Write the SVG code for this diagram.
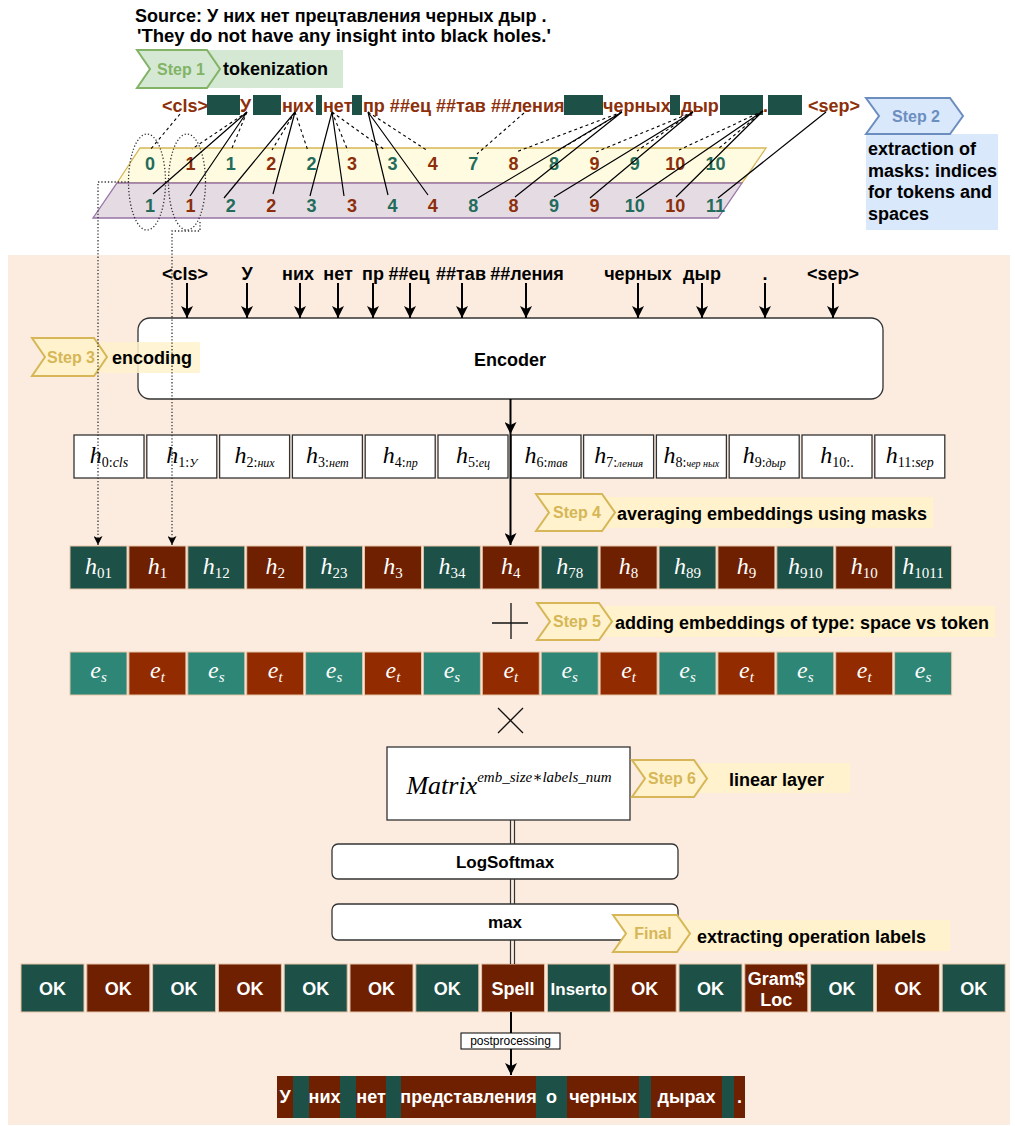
<svg xmlns="http://www.w3.org/2000/svg" width="1015" height="1126" viewBox="0 0 1015 1126">
<defs>
<style>
.t{font-family:"Liberation Sans",Arial,sans-serif;font-weight:bold;font-size:18px;fill:#000}
.tk{font-family:"Liberation Sans",Arial,sans-serif;font-weight:bold;font-size:18px;fill:#8c2f0a}
.ng{font-family:"Liberation Sans",Arial,sans-serif;font-weight:bold;font-size:18px;fill:#236b5b}
.nb{font-family:"Liberation Sans",Arial,sans-serif;font-weight:bold;font-size:18px;fill:#8c2f0a}
.st{font-family:"Liberation Sans",Arial,sans-serif;font-weight:bold;font-size:16px;fill:#d6b656}
.lab{font-family:"Liberation Sans",Arial,sans-serif;font-weight:bold;font-size:18px;fill:#fff}
.mh{font-family:"Liberation Serif","DejaVu Serif",serif;font-style:italic;font-size:24px;fill:#000}
.mw{font-family:"Liberation Serif","DejaVu Serif",serif;font-style:italic;font-size:24px;fill:#fff}
.ms{font-style:normal;font-size:14px}
.ms2{font-style:normal;font-size:15px}
.mi{font-style:italic;font-size:12px}
.mi2{font-style:italic;font-size:15px}
.chev{fill:#fff2cc;stroke:#d6b656;stroke-width:2}
.lbox{fill:#fff2cc}
.hb{fill:#fff;stroke:#333;stroke-width:1.3}
.g1{fill:#1d5046;stroke:#e3c4a8;stroke-width:1}
.b1{fill:#6e2000;stroke:#e3c4a8;stroke-width:1}
.g2{fill:#2e8676;stroke:#e3c4a8;stroke-width:1}
.b2{fill:#922c00;stroke:#e3c4a8;stroke-width:1}
.sol{stroke:#000;stroke-width:1.2;fill:none}
.dsh{stroke:#000;stroke-width:1.1;fill:none;stroke-dasharray:3 3}
.dot{stroke:#333;stroke-width:1.3;fill:none;stroke-dasharray:1.3 2}
.arr{stroke:#000;stroke-width:2;fill:none;marker-end:url(#ah)}
.dbl{stroke:#333;stroke-width:1.2;fill:none}
.rbox{fill:#fff;stroke:#333;stroke-width:1.3}
</style>
<marker id="ah" viewBox="0 0 12 12" refX="12" refY="6" markerWidth="12" markerHeight="12" markerUnits="userSpaceOnUse" orient="auto"><path d="M0,0 L12,6 L0,12 L3,6 z" fill="#000"/></marker>
<marker id="ahs" viewBox="0 0 10 10" refX="10" refY="5" markerWidth="9" markerHeight="9" markerUnits="userSpaceOnUse" orient="auto"><path d="M0,0 L10,5 L0,10 L2.5,5 z" fill="#000"/></marker>
</defs>
<rect x="0" y="0" width="1015" height="1126" fill="#fff"/>
<rect x="8" y="255" width="1002" height="870" fill="#fcecdf"/>

<g id="source">
<text class="t" x="135" y="22">Source: У них нет прецтавления черных дыр .</text>
<text class="t" x="137" y="42" style="font-size:18.5px">'They do not have any insight into black holes.'</text>
</g>

<g id="step1">
<rect x="207" y="50" width="136" height="38" fill="#d5e8d4"/>
<polygon points="137,50 207,50 220,69 207,88 137,88 150,69" fill="#d5e8d4" stroke="#82b366" stroke-width="2"/>
<text class="st" x="181" y="75" text-anchor="middle" style="fill:#82b366">Step 1</text>
<text class="t" x="223" y="75">tokenization</text>
</g>

<g id="tokens">
<text class="tk" x="162" y="112">&lt;cls&gt;</text>
<rect x="207" y="95" width="33" height="20" fill="#1d5046"/>
<text class="tk" x="240" y="112">У</text>
<rect x="253" y="95" width="28" height="20" fill="#1d5046"/>
<text class="tk" x="282" y="112">них</text>
<rect x="316" y="95" width="6" height="20" fill="#1d5046"/>
<text class="tk" x="323" y="112">нет</text>
<rect x="352" y="95" width="10" height="20" fill="#1d5046"/>
<text class="tk" x="363" y="112">пр ##ец ##тав ##ления</text>
<rect x="564" y="95" width="39" height="20" fill="#1d5046"/>
<text class="tk" x="603" y="112">черных</text>
<rect x="670" y="95" width="10" height="20" fill="#1d5046"/>
<text class="tk" x="681" y="112">дыр</text>
<rect x="720" y="95" width="43" height="20" fill="#1d5046"/>
<text class="tk" x="763" y="112">.</text>
<rect x="768" y="95" width="34" height="20" fill="#1d5046"/>
<text class="tk" x="808" y="112">&lt;sep&gt;</text>
</g>

<g id="step2">
<rect x="866" y="134" width="132" height="96" fill="#dae8fc"/>
<polygon points="866,98 950,98 963,116 950,134 866,134 879,116" fill="#dae8fc" stroke="#6c8ebf" stroke-width="2"/>
<text class="st" x="916" y="122" text-anchor="middle" style="fill:#6c8ebf">Step 2</text>
<text class="t" x="868" y="155">extraction of</text>
<text class="t" x="868" y="177">masks: indices</text>
<text class="t" x="868" y="198">for tokens and</text>
<text class="t" x="868" y="220">spaces</text>
</g>

<g id="mask-space-row">
<polygon points="140,148 766,148 742,183 117,183" fill="#fefbe0" stroke="#d6b656" stroke-width="1.3"/>
<g text-anchor="middle">
<text class="ng" x="150" y="170">0</text>
<text class="nb" x="190.4" y="170">1</text>
<text class="ng" x="230.8" y="170">1</text>
<text class="nb" x="271.2" y="170">2</text>
<text class="ng" x="311.6" y="170">2</text>
<text class="nb" x="352" y="170">3</text>
<text class="ng" x="392.4" y="170">3</text>
<text class="nb" x="432.8" y="170">4</text>
<text class="ng" x="473.2" y="170">7</text>
<text class="nb" x="513.6" y="170">8</text>
<text class="ng" x="554" y="170">8</text>
<text class="nb" x="594.4" y="170">9</text>
<text class="ng" x="634.8" y="170">9</text>
<text class="nb" x="675.2" y="170">10</text>
<text class="ng" x="715.6" y="170">10</text>
</g>
</g>

<g id="mask-token-row">
<polygon points="117,183 742,183 718,218 93,218" fill="#e5dbe3" stroke="#9673a6" stroke-width="1.3"/>
<g text-anchor="middle">
<text class="ng" x="150" y="212">1</text>
<text class="nb" x="190.4" y="212">1</text>
<text class="ng" x="230.8" y="212">2</text>
<text class="nb" x="271.2" y="212">2</text>
<text class="ng" x="311.6" y="212">3</text>
<text class="nb" x="352" y="212">3</text>
<text class="ng" x="392.4" y="212">4</text>
<text class="nb" x="432.8" y="212">4</text>
<text class="ng" x="473.2" y="212">8</text>
<text class="nb" x="513.6" y="212">8</text>
<text class="ng" x="554" y="212">9</text>
<text class="nb" x="594.4" y="212">9</text>
<text class="ng" x="634.8" y="212">10</text>
<text class="nb" x="675.2" y="212">10</text>
<text class="ng" x="715.6" y="212">11</text>
</g>
</g>

<g id="mask-groups">
<ellipse cx="147" cy="182" rx="18.5" ry="48" class="dot"/>
<ellipse cx="187" cy="182" rx="18.5" ry="48" class="dot"/>
</g>

<g id="encoder-inputs">
<g text-anchor="middle">
<text class="t" x="185" y="280">&lt;cls&gt;</text>
<text class="t" x="247" y="280">У</text>
<text class="t" x="298" y="280">них</text>
<text class="t" x="338" y="280">нет</text>
<text class="t" x="373" y="280">пр</text>
<text class="t" x="409" y="280">##ец</text>
<text class="t" x="461" y="280">##тав</text>
<text class="t" x="527" y="280">##ления</text>
<text class="t" x="638" y="280">черных</text>
<text class="t" x="702" y="280">дыр</text>
<text class="t" x="765" y="280">.</text>
<text class="t" x="833" y="280">&lt;sep&gt;</text>
</g>
</g>

<g id="encoder">
<rect x="138" y="318" width="745" height="81" rx="12" class="rbox"/>
<text class="t" x="510" y="366" text-anchor="middle">Encoder</text>
</g>

<g id="step3">
<rect x="100" y="342" width="100" height="31" class="lbox" opacity="0.85"/>
<polygon points="32,338 94,338 107,357 94,376 32,376 45,357" class="chev"/>
<text class="st" x="71" y="363" text-anchor="middle">Step 3</text>
<text class="t" x="112" y="364">encoding</text>
</g>

<g id="hidden-states">
<rect x="74" y="435" width="70" height="43" class="hb"/>
<rect x="146.8" y="435" width="70" height="43" class="hb"/>
<rect x="219.6" y="435" width="70" height="43" class="hb"/>
<rect x="292.4" y="435" width="70" height="43" class="hb"/>
<rect x="365.2" y="435" width="70" height="43" class="hb"/>
<rect x="438" y="435" width="70" height="43" class="hb"/>
<rect x="511" y="435" width="70" height="43" class="hb"/>
<rect x="583.6" y="435" width="70" height="43" class="hb"/>
<rect x="656.4" y="435" width="70" height="43" class="hb"/>
<rect x="729.2" y="435" width="70" height="43" class="hb"/>
<rect x="802" y="435" width="70" height="43" class="hb"/>
<rect x="874.8" y="435" width="70" height="43" class="hb"/>
<g text-anchor="middle">
<text class="mh" x="109" y="463">h<tspan class="ms" dy="4">0:</tspan><tspan class="mi" style="font-size:14px">cls</tspan></text>
<text class="mh" x="181.8" y="463">h<tspan class="ms" dy="4">1:</tspan><tspan class="mi">У</tspan></text>
<text class="mh" x="254.6" y="463">h<tspan class="ms" dy="4">2:</tspan><tspan class="mi">них</tspan></text>
<text class="mh" x="327.4" y="463">h<tspan class="ms" dy="4">3:</tspan><tspan class="mi">нет</tspan></text>
<text class="mh" x="400.2" y="463">h<tspan class="ms" dy="4">4:</tspan><tspan class="mi">пр</tspan></text>
<text class="mh" x="473" y="463">h<tspan class="ms" dy="4">5:</tspan><tspan class="mi">ец</tspan></text>
<text class="mh" x="546" y="463">h<tspan class="ms" dy="4">6:</tspan><tspan class="mi">тав</tspan></text>
<text class="mh" x="618.6" y="463">h<tspan class="ms" dy="4">7:</tspan><tspan class="mi" style="font-size:11px">ления</tspan></text>
<text class="mh" x="691.4" y="463">h<tspan class="ms" dy="4">8:</tspan><tspan class="mi" style="font-size:10px">чер ных</tspan></text>
<text class="mh" x="764.2" y="463">h<tspan class="ms" dy="4">9:</tspan><tspan class="mi">дыр</tspan></text>
<text class="mh" x="837" y="463">h<tspan class="ms" dy="4">10:.</tspan></text>
<text class="mh" x="909.8" y="463">h<tspan class="ms" dy="4">11:</tspan><tspan class="mi" style="font-size:14px">sep</tspan></text>
</g>
</g>

<g id="step4">
<rect x="605" y="497" width="328" height="31" class="lbox"/>
<polygon points="536,494 602,494 615,512.5 602,531 536,531 549,512.5" class="chev"/>
<text class="st" x="577" y="518" text-anchor="middle">Step 4</text>
<text class="t" x="617" y="520">averaging embeddings using masks</text>
</g>

<g id="averaged">
<rect x="70" y="546" width="57" height="43" class="g1"/>
<rect x="128.9" y="546" width="57" height="43" class="b1"/>
<rect x="187.8" y="546" width="57" height="43" class="g1"/>
<rect x="246.7" y="546" width="57" height="43" class="b1"/>
<rect x="305.6" y="546" width="57" height="43" class="g1"/>
<rect x="364.5" y="546" width="57" height="43" class="b1"/>
<rect x="423.4" y="546" width="57" height="43" class="g1"/>
<rect x="482.3" y="546" width="57" height="43" class="b1"/>
<rect x="541.2" y="546" width="57" height="43" class="g1"/>
<rect x="600.1" y="546" width="57" height="43" class="b1"/>
<rect x="659" y="546" width="57" height="43" class="g1"/>
<rect x="717.9" y="546" width="57" height="43" class="b1"/>
<rect x="776.8" y="546" width="57" height="43" class="g1"/>
<rect x="835.7" y="546" width="57" height="43" class="b1"/>
<rect x="894.6" y="546" width="57" height="43" class="g1"/>
<g text-anchor="middle">
<text class="mw" x="98.5" y="574">h<tspan class="ms2" dy="4">01</tspan></text>
<text class="mw" x="157.4" y="574">h<tspan class="ms2" dy="4">1</tspan></text>
<text class="mw" x="216.3" y="574">h<tspan class="ms2" dy="4">12</tspan></text>
<text class="mw" x="275.2" y="574">h<tspan class="ms2" dy="4">2</tspan></text>
<text class="mw" x="334.1" y="574">h<tspan class="ms2" dy="4">23</tspan></text>
<text class="mw" x="393" y="574">h<tspan class="ms2" dy="4">3</tspan></text>
<text class="mw" x="451.9" y="574">h<tspan class="ms2" dy="4">34</tspan></text>
<text class="mw" x="510.8" y="574">h<tspan class="ms2" dy="4">4</tspan></text>
<text class="mw" x="569.7" y="574">h<tspan class="ms2" dy="4">78</tspan></text>
<text class="mw" x="628.6" y="574">h<tspan class="ms2" dy="4">8</tspan></text>
<text class="mw" x="687.5" y="574">h<tspan class="ms2" dy="4">89</tspan></text>
<text class="mw" x="746.4" y="574">h<tspan class="ms2" dy="4">9</tspan></text>
<text class="mw" x="805.3" y="574">h<tspan class="ms2" dy="4">910</tspan></text>
<text class="mw" x="864.2" y="574">h<tspan class="ms2" dy="4">10</tspan></text>
<text class="mw" x="923.1" y="574">h<tspan class="ms2" dy="4">1011</tspan></text>
</g>
</g>

<g id="plus">
<path d="M492,623 H528 M511,603 V639" stroke="#111" stroke-width="1.3" fill="none"/>
</g>

<g id="step5">
<rect x="605" y="606" width="390" height="31" class="lbox"/>
<polygon points="537,603 599,603 612,621.5 599,640 537,640 550,621.5" class="chev"/>
<text class="st" x="577" y="627" text-anchor="middle">Step 5</text>
<text class="t" x="615" y="629">adding embeddings of type: space vs token</text>
</g>

<g id="type-embeddings">
<rect x="70" y="652" width="57" height="43" class="g2"/>
<rect x="128.9" y="652" width="57" height="43" class="b2"/>
<rect x="187.8" y="652" width="57" height="43" class="g2"/>
<rect x="246.7" y="652" width="57" height="43" class="b2"/>
<rect x="305.6" y="652" width="57" height="43" class="g2"/>
<rect x="364.5" y="652" width="57" height="43" class="b2"/>
<rect x="423.4" y="652" width="57" height="43" class="g2"/>
<rect x="482.3" y="652" width="57" height="43" class="b2"/>
<rect x="541.2" y="652" width="57" height="43" class="g2"/>
<rect x="600.1" y="652" width="57" height="43" class="b2"/>
<rect x="659" y="652" width="57" height="43" class="g2"/>
<rect x="717.9" y="652" width="57" height="43" class="b2"/>
<rect x="776.8" y="652" width="57" height="43" class="g2"/>
<rect x="835.7" y="652" width="57" height="43" class="b2"/>
<rect x="894.6" y="652" width="57" height="43" class="g2"/>
<g text-anchor="middle">
<text class="mw" x="98.5" y="678">e<tspan class="mi2" dy="4">s</tspan></text>
<text class="mw" x="157.4" y="678">e<tspan class="mi2" dy="4">t</tspan></text>
<text class="mw" x="216.3" y="678">e<tspan class="mi2" dy="4">s</tspan></text>
<text class="mw" x="275.2" y="678">e<tspan class="mi2" dy="4">t</tspan></text>
<text class="mw" x="334.1" y="678">e<tspan class="mi2" dy="4">s</tspan></text>
<text class="mw" x="393" y="678">e<tspan class="mi2" dy="4">t</tspan></text>
<text class="mw" x="451.9" y="678">e<tspan class="mi2" dy="4">s</tspan></text>
<text class="mw" x="510.8" y="678">e<tspan class="mi2" dy="4">t</tspan></text>
<text class="mw" x="569.7" y="678">e<tspan class="mi2" dy="4">s</tspan></text>
<text class="mw" x="628.6" y="678">e<tspan class="mi2" dy="4">t</tspan></text>
<text class="mw" x="687.5" y="678">e<tspan class="mi2" dy="4">s</tspan></text>
<text class="mw" x="746.4" y="678">e<tspan class="mi2" dy="4">t</tspan></text>
<text class="mw" x="805.3" y="678">e<tspan class="mi2" dy="4">s</tspan></text>
<text class="mw" x="864.2" y="678">e<tspan class="mi2" dy="4">t</tspan></text>
<text class="mw" x="923.1" y="678">e<tspan class="mi2" dy="4">s</tspan></text>
</g>
</g>

<g id="times">
<path d="M498,708 L523,733 M523,708 L498,733" stroke="#111" stroke-width="1.3" fill="none"/>
</g>

<g id="matrix">
<rect x="387" y="747" width="243" height="73" class="rbox"/>
<text x="509" y="794" text-anchor="middle" style="font-family:'Liberation Serif','DejaVu Serif',serif;font-style:italic;font-size:26px">Matrix<tspan dy="-12" style="font-size:15px">emb_size∗labels_num</tspan></text>
</g>

<g id="step6">
<rect x="700" y="763" width="150" height="30" class="lbox"/>
<polygon points="632,760 694,760 707,778.5 694,797 632,797 645,778.5" class="chev"/>
<text class="st" x="672" y="784" text-anchor="middle">Step 6</text>
<text class="t" x="729" y="786">linear layer</text>
</g>

<g id="logsoftmax">
<rect x="332" y="844" width="346" height="35" rx="6" class="rbox"/>
<text class="t" x="505" y="868" text-anchor="middle" style="font-size:17px">LogSoftmax</text>
</g>

<g id="max">
<rect x="332" y="904" width="346" height="36" rx="6" class="rbox"/>
<text class="t" x="505" y="928" text-anchor="middle" style="font-size:17px">max</text>
</g>

<g id="final">
<rect x="683" y="920" width="267" height="31" class="lbox"/>
<polygon points="613,915 677,915 690,933.5 677,952 613,952 626,933.5" class="chev"/>
<text class="st" x="653" y="939" text-anchor="middle">Final</text>
<text class="t" x="697" y="943">extracting operation labels</text>
</g>

<g id="labels">
<rect x="21" y="964" width="63" height="48" class="g1"/>
<rect x="86.8" y="964" width="63" height="48" class="b1"/>
<rect x="152.6" y="964" width="63" height="48" class="g1"/>
<rect x="218.4" y="964" width="63" height="48" class="b1"/>
<rect x="284.2" y="964" width="63" height="48" class="g1"/>
<rect x="350" y="964" width="63" height="48" class="b1"/>
<rect x="415.8" y="964" width="63" height="48" class="g1"/>
<rect x="481.6" y="964" width="63" height="48" class="b1"/>
<rect x="547.4" y="964" width="63" height="48" class="g1"/>
<rect x="613.2" y="964" width="63" height="48" class="b1"/>
<rect x="679" y="964" width="63" height="48" class="g1"/>
<rect x="744.8" y="964" width="63" height="48" class="b1"/>
<rect x="810.6" y="964" width="63" height="48" class="g1"/>
<rect x="876.4" y="964" width="63" height="48" class="b1"/>
<rect x="942.2" y="964" width="63" height="48" class="g1"/>
<g text-anchor="middle">
<text class="lab" x="52.5" y="995">OK</text>
<text class="lab" x="118.3" y="995">OK</text>
<text class="lab" x="184.1" y="995">OK</text>
<text class="lab" x="249.9" y="995">OK</text>
<text class="lab" x="315.7" y="995">OK</text>
<text class="lab" x="381.5" y="995">OK</text>
<text class="lab" x="447.3" y="995">OK</text>
<text class="lab" x="513.1" y="995">Spell</text>
<text class="lab" x="578.9" y="995" style="font-size:17px">Inserto</text>
<text class="lab" x="644.7" y="995">OK</text>
<text class="lab" x="710.5" y="995">OK</text>
<text class="lab" x="776.3" y="985">Gram$</text>
<text class="lab" x="776.3" y="1006">Loc</text>
<text class="lab" x="842.1" y="995">OK</text>
<text class="lab" x="907.9" y="995">OK</text>
<text class="lab" x="973.7" y="995">OK</text>
</g>
</g>

<g id="output">
<rect x="277" y="1076" width="16" height="42" fill="#6e2000"/>
<rect x="293" y="1076" width="16" height="42" fill="#1d5046"/>
<rect x="309" y="1076" width="31" height="42" fill="#6e2000"/>
<rect x="340" y="1076" width="16" height="42" fill="#1d5046"/>
<rect x="356" y="1076" width="30" height="42" fill="#6e2000"/>
<rect x="386" y="1076" width="15" height="42" fill="#1d5046"/>
<rect x="401" y="1076" width="135" height="42" fill="#6e2000"/>
<rect x="536" y="1076" width="31" height="42" fill="#1d5046"/>
<rect x="567" y="1076" width="72" height="42" fill="#6e2000"/>
<rect x="639" y="1076" width="12" height="42" fill="#1d5046"/>
<rect x="651" y="1076" width="71" height="42" fill="#6e2000"/>
<rect x="722" y="1076" width="12" height="42" fill="#1d5046"/>
<rect x="734" y="1076" width="11" height="42" fill="#6e2000"/>
<g text-anchor="middle">
<text class="lab" x="285" y="1103">У</text>
<text class="lab" x="324.5" y="1103">них</text>
<text class="lab" x="371" y="1103">нет</text>
<text class="lab" x="468.5" y="1103">представления</text>
<text class="lab" x="551.5" y="1103">о</text>
<text class="lab" x="603" y="1103">черных</text>
<text class="lab" x="686.5" y="1103">дырах</text>
<text class="lab" x="739.5" y="1103">.</text>
</g>
</g>

<g id="connectors">
<g class="dsh">
<path d="M180,114 L150,150"/>
<path d="M247,112 L192,149 M247,112 L232,148"/>
<path d="M295,112 L272,150 M295,112 L308,151"/>
<path d="M332,112 L348,151 M332,112 L385,150"/>
<path d="M368,112 L428,151"/>
<path d="M524,113 L477,154"/>
<path d="M622,112 L516,152 M622,112 L556,152"/>
<path d="M693,112 L596,152 M693,112 L637,151"/>
<path d="M763,111 L679,150 M763,111 L718,149"/>
</g>
<g class="sol">
<path d="M247,112 L153,194 M247,112 L190,196"/>
<path d="M295,112 L224,198 M295,112 L273,194"/>
<path d="M332,112 L310,196 M332,112 L344,196"/>
<path d="M368,112 L388,195 M368,112 L428,195"/>
<path d="M622,112 L478,198 M622,112 L515,197"/>
<path d="M693,112 L554,197 M693,112 L590,198"/>
<path d="M763,111 L636,198 M763,111 L676,197"/>
<path d="M826,112 L718,198"/>
</g>
<path d="M129,182 H98 V545" class="dot" marker-end="url(#ahs)"/>
<path d="M200,222 V231 H172 V545" class="dot" marker-end="url(#ahs)"/>
<g class="arr">
<path d="M187,283 V318"/>
<path d="M247,283 V318"/>
<path d="M300,283 V318"/>
<path d="M338,283 V318"/>
<path d="M373,283 V318"/>
<path d="M410,283 V318"/>
<path d="M462,283 V318"/>
<path d="M526,283 V318"/>
<path d="M638,283 V318"/>
<path d="M702,283 V318"/>
<path d="M765,283 V318"/>
<path d="M833,283 V318"/>
<path d="M510.5,399 V434"/>
<path d="M510.5,434 V545"/>
</g>
<path d="M510.5,820 V844 M514.5,820 V844 M510.5,879 V904 M514.5,879 V904 M510.5,940 V964 M514.5,940 V964" class="dbl"/>
<path d="M511,1012 V1075" class="arr"/>
<rect x="461" y="1033" width="99" height="16" fill="#fff" stroke="#000" stroke-width="1"/>
<text x="510.5" y="1045" text-anchor="middle" style="font-family:'Liberation Sans',Arial,sans-serif;font-size:12px">postprocessing</text>
</g>
</svg>
